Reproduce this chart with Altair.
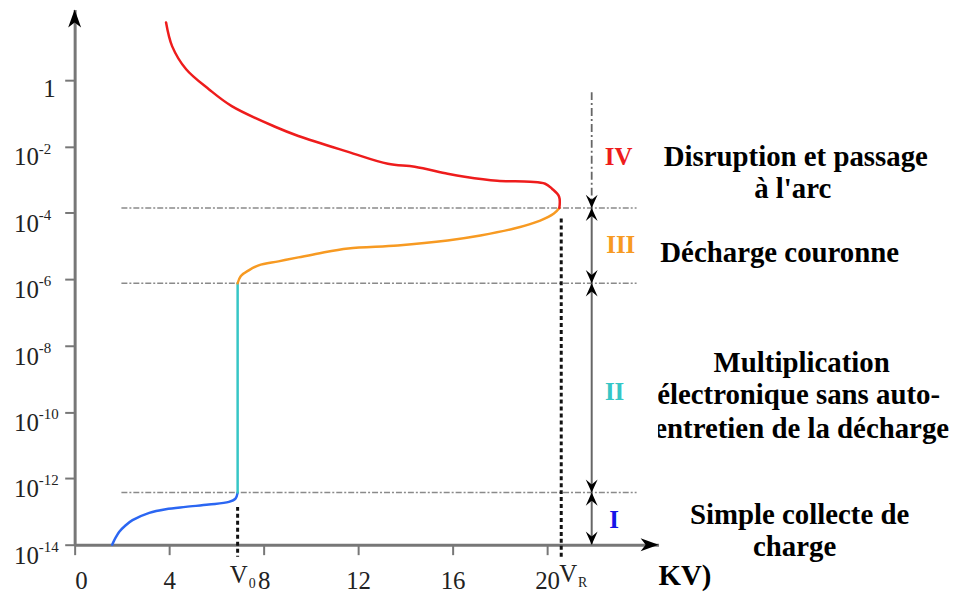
import altair as alt
import pandas as pd

# ---- curve readings: voltage (kV) and log10 of current ----
blue_kv = [1.59, 1.68, 1.89, 2.15, 2.45, 3.16, 3.86, 4.70, 5.68, 6.53, 6.81, 6.90]
blue_lg = [-14.00, -13.86, -13.61, -13.42, -13.26, -13.04, -12.93, -12.86, -12.79, -12.71, -12.61, -12.43]
cyan_kv = [6.90, 6.90]
cyan_lg = [-12.43, -6.12]
orange_kv = [6.90, 7.03, 7.37, 7.79, 8.63, 9.47, 10.32, 11.58, 13.68, 15.79, 17.18, 18.61, 19.71, 20.29, 20.52]
orange_lg = [-6.12, -5.91, -5.73, -5.58, -5.46, -5.34, -5.22, -5.07, -4.98, -4.83, -4.68, -4.47, -4.23, -4.02, -3.85]
red_kv = [20.52, 20.51, 20.21, 19.92, 19.28, 17.89, 16.51, 15.79, 14.40, 13.26, 11.58, 9.47, 8.51, 6.65, 5.68, 4.72, 4.13, 3.87]
red_lg = [-3.85, -3.51, -3.27, -3.12, -3.06, -3.03, -2.91, -2.82, -2.61, -2.52, -2.16, -1.68, -1.41, -0.78, -0.27, 0.33, 1.02, 1.74]

segments = ["I", "II", "III", "IV"]
seg_colors = ["#2b66f2", "#36c6c6", "#f79a22", "#ee1c1c"]

# ---- region levels (log10 current) ----
levels = [-3.85, -6.12, -12.43]
hline_kv = [1.98, 23.79]
v_names = ["V0", "VR"]
v_kv = [6.90, 20.60]
v_top = [-12.86, -4.17]
v_bottom = -14.36

# region arrow column
arrow_kv = 21.89
arrow_top = -0.36
down_tips = [-3.85, -6.12, -12.43, -14.0]
up_tips = [-3.85, -6.12, -12.43]

# roman numerals
roman = ["IV", "III", "II", "I"]
roman_kv = [23.03, 23.12, 22.86, 22.84]
roman_lg = [-2.31, -4.98, -9.41, -13.25]
roman_colors = ["#ee1c1c", "#f79a22", "#36c6c6", "#1515e8"]

# description texts
desc_text = ["Disruption et passage", "à l'arc", "Décharge couronne", "Multiplication",
             "électronique sans auto-", "entretien de la décharge", "Simple collecte de", "charge"]
desc_kv = [30.53, 30.40, 29.85, 30.78, 30.65, 30.78, 30.69, 30.48]
desc_lg = [-2.31, -3.27, -5.22, -8.51, -9.50, -10.52, -13.10, -14.06]
unit_text = ["KV)"]
unit_kv = [24.72]
unit_lg = [-14.93]

# axis ticks and tick labels
x_ticks = [0, 4, 8, 12, 16, 20]
y_ticks = [-14, -12, -10, -8, -6, -4, -2, 0]
y_pow_ticks = [-14, -12, -10, -8, -6, -4, -2]
y_pow_base = ["10", "10", "10", "10", "10", "10", "10"]
y_pow_exp = ["-14", "-12", "-10", "-8", "-6", "-4", "-2"]
y_one_tick = [0]
y_one_label = ["1"]

X_MAX = 24.72
Y_MAX = 2.13
W, H = 587, 538
SERIF = "Liberation Serif"

xs = alt.Scale(domain=[0, X_MAX], nice=False, zero=False)
ys = alt.Scale(domain=[-14, Y_MAX], nice=False, zero=False)
x_axis = alt.Axis(values=x_ticks, title=None, grid=False, tickSize=10, labelPadding=14,
                  labelFontSize=25, labelFont=SERIF)
y_axis = alt.Axis(values=y_ticks, title=None, grid=False, tickSize=10, labels=False)


def X(f="kv"):
    return alt.X(f"{f}:Q", scale=xs, axis=x_axis)


def Y(f="lg"):
    return alt.Y(f"{f}:Q", scale=ys, axis=y_axis)


# curve table
rows = []
for seg, kvs, lgs in [("I", blue_kv, blue_lg), ("II", cyan_kv, cyan_lg),
                      ("III", orange_kv, orange_lg), ("IV", red_kv, red_lg)]:
    for i, (a, b) in enumerate(zip(kvs, lgs)):
        rows.append({"kv": a, "lg": b, "seg": seg, "ord": i})
curves_df = pd.DataFrame(rows)

hl_df = pd.DataFrame({"kv": [hline_kv[0]] * 3, "kv2": [hline_kv[1]] * 3, "lg": levels})
v_df = pd.DataFrame({"kv": v_kv, "lg": v_top, "lg2": [v_bottom] * 2, "name": v_names})

top_df = pd.DataFrame({"kv": [arrow_kv], "lg": [arrow_top], "lg2": [levels[0]]})
solid_df = pd.DataFrame({"kv": [arrow_kv] * 3, "lg": levels, "lg2": [levels[1], levels[2], -14.0]})
down_df = pd.DataFrame({"kv": [arrow_kv] * len(down_tips), "lg": down_tips})
up_df = pd.DataFrame({"kv": [arrow_kv] * len(up_tips), "lg": up_tips})

roman_df = pd.DataFrame({"kv": roman_kv, "lg": roman_lg, "t": roman, "c": roman_colors})
desc_df = pd.DataFrame({"kv": desc_kv, "lg": desc_lg, "t": desc_text})
unit_df = pd.DataFrame({"kv": unit_kv, "lg": unit_lg, "t": unit_text})

vlab_df = pd.DataFrame({"kv": [6.95, 20.90], "lg": [-14.90, -14.87], "t": ["V", "V"]})
vsub_df = pd.DataFrame({"kv": [7.52, 21.51], "lg": [-15.17, -15.14], "t": ["0", "R"]})

clip_df = pd.DataFrame({"kv": [23.83], "kv2": [24.70], "lg": [-4.47], "lg2": [-11.06]})

yarrow_df = pd.DataFrame({"kv": [0.0], "lg": [Y_MAX]})
xarrow_df = pd.DataFrame({"kv": [X_MAX], "lg": [-14.0]})

ybase_df = pd.DataFrame({"kv": [0.0] * len(y_pow_ticks), "lg": y_pow_ticks, "t": y_pow_base})
yexp_df = pd.DataFrame({"kv": [0.0] * len(y_pow_ticks), "lg": y_pow_ticks, "t": y_pow_exp})
yone_df = pd.DataFrame({"kv": [0.0], "lg": y_one_tick, "t": y_one_label})

curves = alt.Chart(curves_df).mark_line(strokeWidth=2.5, strokeCap="round", interpolate="catmull-rom").encode(
    x=X(), y=Y(),
    color=alt.Color("seg:N", scale=alt.Scale(domain=segments, range=seg_colors), legend=None),
    order="ord:Q",
)

hlines = alt.Chart(hl_df).mark_rule(color="#8a8a8a", strokeWidth=1.5, strokeDash=[6, 2, 2, 2]).encode(
    x=X(), x2="kv2:Q", y=Y()
)

vlines = alt.Chart(v_df).mark_rule(color="#111111", strokeWidth=3, strokeDash=[4, 3]).encode(
    x=X(), y=Y(), y2="lg2:Q"
)

top_line = alt.Chart(top_df).mark_rule(color="#666666", strokeWidth=1.8, strokeDash=[8, 3, 2, 3]).encode(
    x=X(), y=Y(), y2="lg2:Q"
)
solid_lines = alt.Chart(solid_df).mark_rule(color="#666666", strokeWidth=2).encode(
    x=X(), y=Y(), y2="lg2:Q"
)

DOWN = "M0,0L-0.45,-1L0,-0.62L0.45,-1Z"
UP = "M0,0L-0.45,1L0,0.62L0.45,1Z"
down_heads = alt.Chart(down_df).mark_point(shape=DOWN, size=700, filled=True, color="#000000",
                                           opacity=1, strokeWidth=0).encode(x=X(), y=Y())
up_heads = alt.Chart(up_df).mark_point(shape=UP, size=700, filled=True, color="#000000",
                                       opacity=1, strokeWidth=0).encode(x=X(), y=Y())

y_arrow = alt.Chart(yarrow_df).mark_point(shape="M0,0L-0.36,1L0,0.72L0.36,1Z", size=1300, filled=True,
                                          color="#000000", opacity=1, strokeWidth=0).encode(x=X(), y=Y())
x_arrow = alt.Chart(xarrow_df).mark_point(shape="M0,0L-1,-0.36L-0.72,0L-1,0.36Z", size=1300, filled=True,
                                          color="#000000", opacity=1, strokeWidth=0).encode(x=X(), y=Y())

roman_txt = alt.Chart(roman_df).mark_text(font=SERIF, fontSize=25, fontWeight="bold",
                                          align="center", baseline="middle").encode(
    x=X(), y=Y(), text="t:N", color=alt.Color("c:N", scale=None)
)

desc_txt = alt.Chart(desc_df).mark_text(font=SERIF, fontSize=29, fontWeight="bold", color="#000000",
                                        align="center", baseline="middle").encode(
    x=X(), y=Y(), text="t:N"
)

unit_txt = alt.Chart(unit_df).mark_text(font=SERIF, fontSize=29, fontWeight="bold", color="#000000",
                                        align="left", baseline="middle").encode(
    x=X(), y=Y(), text="t:N"
)

clip_rect = alt.Chart(clip_df).mark_rect(color="#ffffff", opacity=1).encode(
    x=X(), x2="kv2:Q", y=Y(), y2="lg2:Q"
)

vlab = alt.Chart(vlab_df).mark_text(font=SERIF, fontSize=25, color="#222222",
                                    align="center", baseline="middle").encode(
    x=X(), y=Y(), text="t:N"
)
vsub = alt.Chart(vsub_df).mark_text(font=SERIF, fontSize=14, color="#222222",
                                    align="center", baseline="middle").encode(
    x=X(), y=Y(), text="t:N"
)

ybase = alt.Chart(ybase_df).mark_text(font=SERIF, fontSize=25, color="#222222", align="right",
                                      baseline="alphabetic", dx=-36, dy=19).encode(
    x=X(), y=Y(), text="t:N"
)
yexp = alt.Chart(yexp_df).mark_text(font=SERIF, fontSize=15, color="#222222", align="left",
                                    baseline="alphabetic", dx=-36, dy=7).encode(
    x=X(), y=Y(), text="t:N"
)
yone = alt.Chart(yone_df).mark_text(font=SERIF, fontSize=25, color="#222222", align="right",
                                    baseline="alphabetic", dx=-19, dy=17).encode(
    x=X(), y=Y(), text="t:N"
)

chart = alt.layer(
    hlines, vlines, top_line, solid_lines, curves, down_heads, up_heads,
    roman_txt, desc_txt, clip_rect, unit_txt, vlab, vsub, ybase, yexp, yone, y_arrow, x_arrow
).properties(
    width=W, height=H,
    autosize=alt.AutoSizeParams(type="none"),
    padding={"left": 67, "top": 0, "right": 292, "bottom": 49},
).configure_view(stroke=None).configure_axis(
    domainColor="#777777", domainWidth=3, tickColor="#777777", tickWidth=2,
    labelFont=SERIF, labelColor="#222222",
)

chart.save("out.html", embed_options={"renderer": "svg", "actions": False})
